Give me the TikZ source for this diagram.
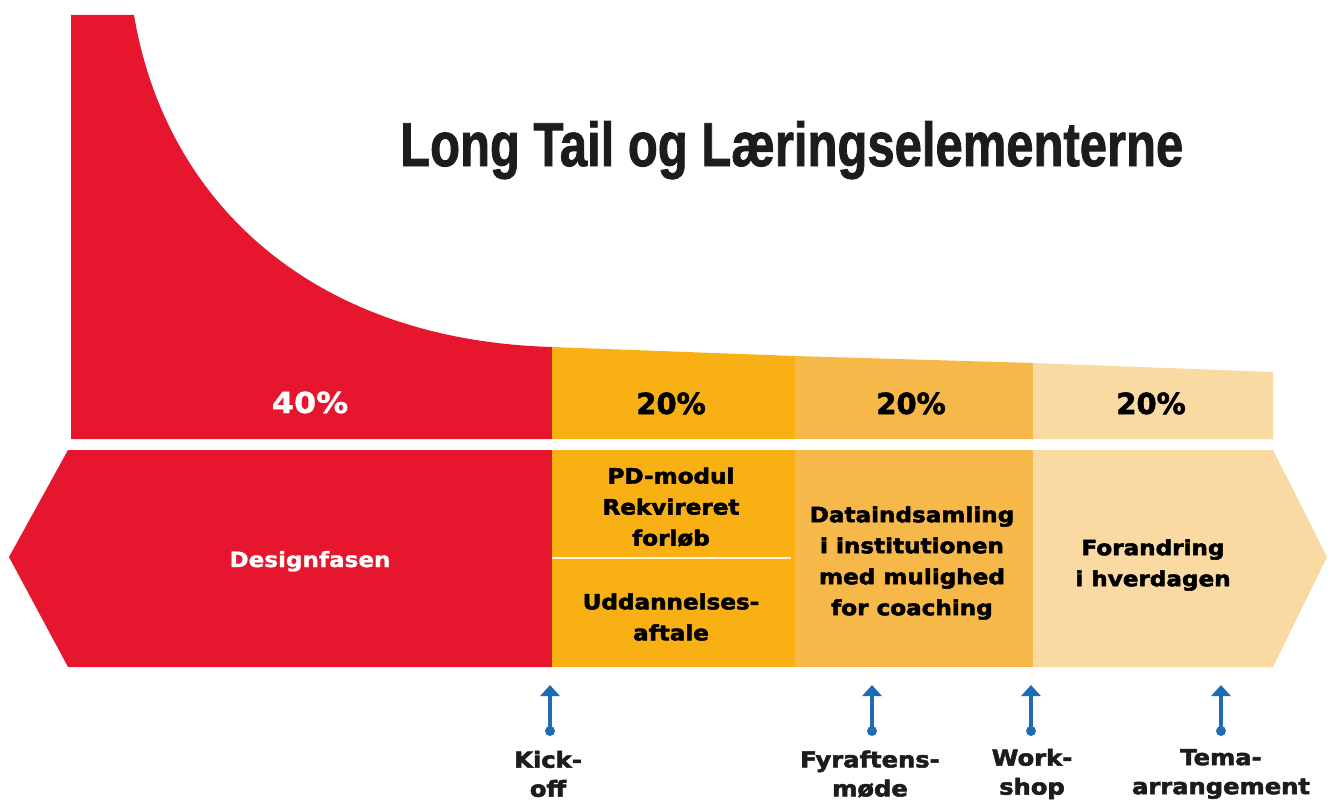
\documentclass[tikz,border=0pt]{standalone}
\usepackage{fontspec}
\usepackage{graphicx}
\usetikzlibrary{arrows.meta}
\setmainfont{DejaVu Sans}
\newfontfamily\titlefont{Liberation Sans}[BoldFeatures={FakeBold=1.5}]
\newfontfamily\heavy{DejaVu Sans}[FakeStretch=1.1, BoldFeatures={FakeBold=2.5}]
\newfontfamily\pctfont{DejaVu Sans}[BoldFeatures={FakeBold=2}]
\newfontfamily\whitefont{DejaVu Sans}[FakeStretch=1.1, BoldFeatures={FakeBold=1}]

\definecolor{tailred}{HTML}{E5162E}
\definecolor{phaseA}{HTML}{F9B015}
\definecolor{phaseB}{HTML}{F5B849}
\definecolor{phaseC}{HTML}{F8DAA2}
\definecolor{markblue}{HTML}{1F6BB4}
\definecolor{ink}{HTML}{1C1C1C}

\tikzset{
  pct/.style={inner sep=0pt, anchor=base, font=\pctfont\bfseries\fontsize{29}{34}\selectfont},
  phasetext/.style={inner sep=0pt, align=center, text=black,
    font=\heavy\bfseries\fontsize{21}{31}\selectfont},
  eventtext/.style={inner sep=0pt, align=center, text=ink,
    font=\heavy\bfseries\fontsize{22}{29}\selectfont},
  cue/.style={draw=markblue, line width=3.5pt, -{Triangle[width=19pt,length=11pt]}},
  cuedot/.style={fill=markblue}
}

\begin{document}
\begin{tikzpicture}[x=1pt, y=-1pt]
\useasboundingbox (0,0) rectangle (1328,800);

% --- upper band: the long tail curve and its segments
\fill[tailred] (71,15) -- (134,15) .. controls (165,200) and (310,340) .. (552,347)
  -- (552,439) -- (71,439) -- cycle;
\fill[phaseA] (552,347) -- (795,356) -- (795,439) -- (552,439) -- cycle;
\fill[phaseB] (795,356) -- (1033,363) -- (1033,439) -- (795,439) -- cycle;
\fill[phaseC] (1033,363) -- (1273,372) -- (1273,439) -- (1033,439) -- cycle;

% --- lower band: phases as one double-ended arrow
\fill[tailred] (552,450) -- (68,450) -- (9,557) -- (68,667) -- (552,667) -- cycle;
\fill[phaseA] (552,450) rectangle (795,667);
\fill[phaseB] (795,450) rectangle (1033,667);
\fill[phaseC] (1033,450) -- (1273,450) -- (1327,557) -- (1273,667) -- (1033,667) -- cycle;
\draw[white!85!phaseA, line width=2pt] (552,558) -- (791,558);

% --- title
\node[anchor=base west, inner sep=0pt, text=ink] (title) at (400,166)
  {\resizebox{783pt}{45pt}{\titlefont\bfseries\fontsize{40}{48}\selectfont Long Tail og Læringselementerne}};

% --- shares
\node[pct, text=white, font=\whitefont\bfseries\fontsize{29}{34}\selectfont] (p40) at (310,413) {40\%};
\node[pct, text=black] (p20a) at (671,414) {20\%};
\node[pct, text=black] (p20b) at (911,414) {20\%};
\node[pct, text=black] (p20c) at (1151,414) {20\%};

% --- phase texts
\node[inner sep=0pt, anchor=base, text=white, font=\whitefont\bfseries\fontsize{21}{25}\selectfont]
  (design) at (310,567) {Designfasen};
\node[phasetext] (pdmodul) at (671,507) {PD-modul\\Rekvireret\\forløb};
\node[phasetext] (aftale) at (671,617) {Uddannelses-\\aftale};
\node[phasetext] (data) at (912,563) {Dataindsamling\\i institutionen\\med mulighed\\for coaching};
\node[phasetext] (hverdag) at (1153,565) {Forandring\\i hverdagen};

% --- events along the timeline
\coordinate (kdot) at (550,731);  \coordinate (ktip) at (550,685);
\coordinate (fdot) at (872,731);  \coordinate (ftip) at (872,685);
\coordinate (wdot) at (1031,731); \coordinate (wtip) at (1031,685);
\coordinate (tdot) at (1221,731); \coordinate (ttip) at (1221,685);
\foreach \e in {k,f,w,t}{
  \draw[cue] (\e dot) -- (\e tip);
  \fill[cuedot] (\e dot) circle (5pt);
}
\node[eventtext] (kick) at (548,774) {Kick-\\off};
\node[eventtext] (fyr) at (870,774) {Fyraftens-\\møde};
\node[eventtext] (work) at (1032,774) {Work-\\shop};
\node[eventtext] (tema) at (1221,774) {Tema-\\arrangement};
\end{tikzpicture}
\end{document}
